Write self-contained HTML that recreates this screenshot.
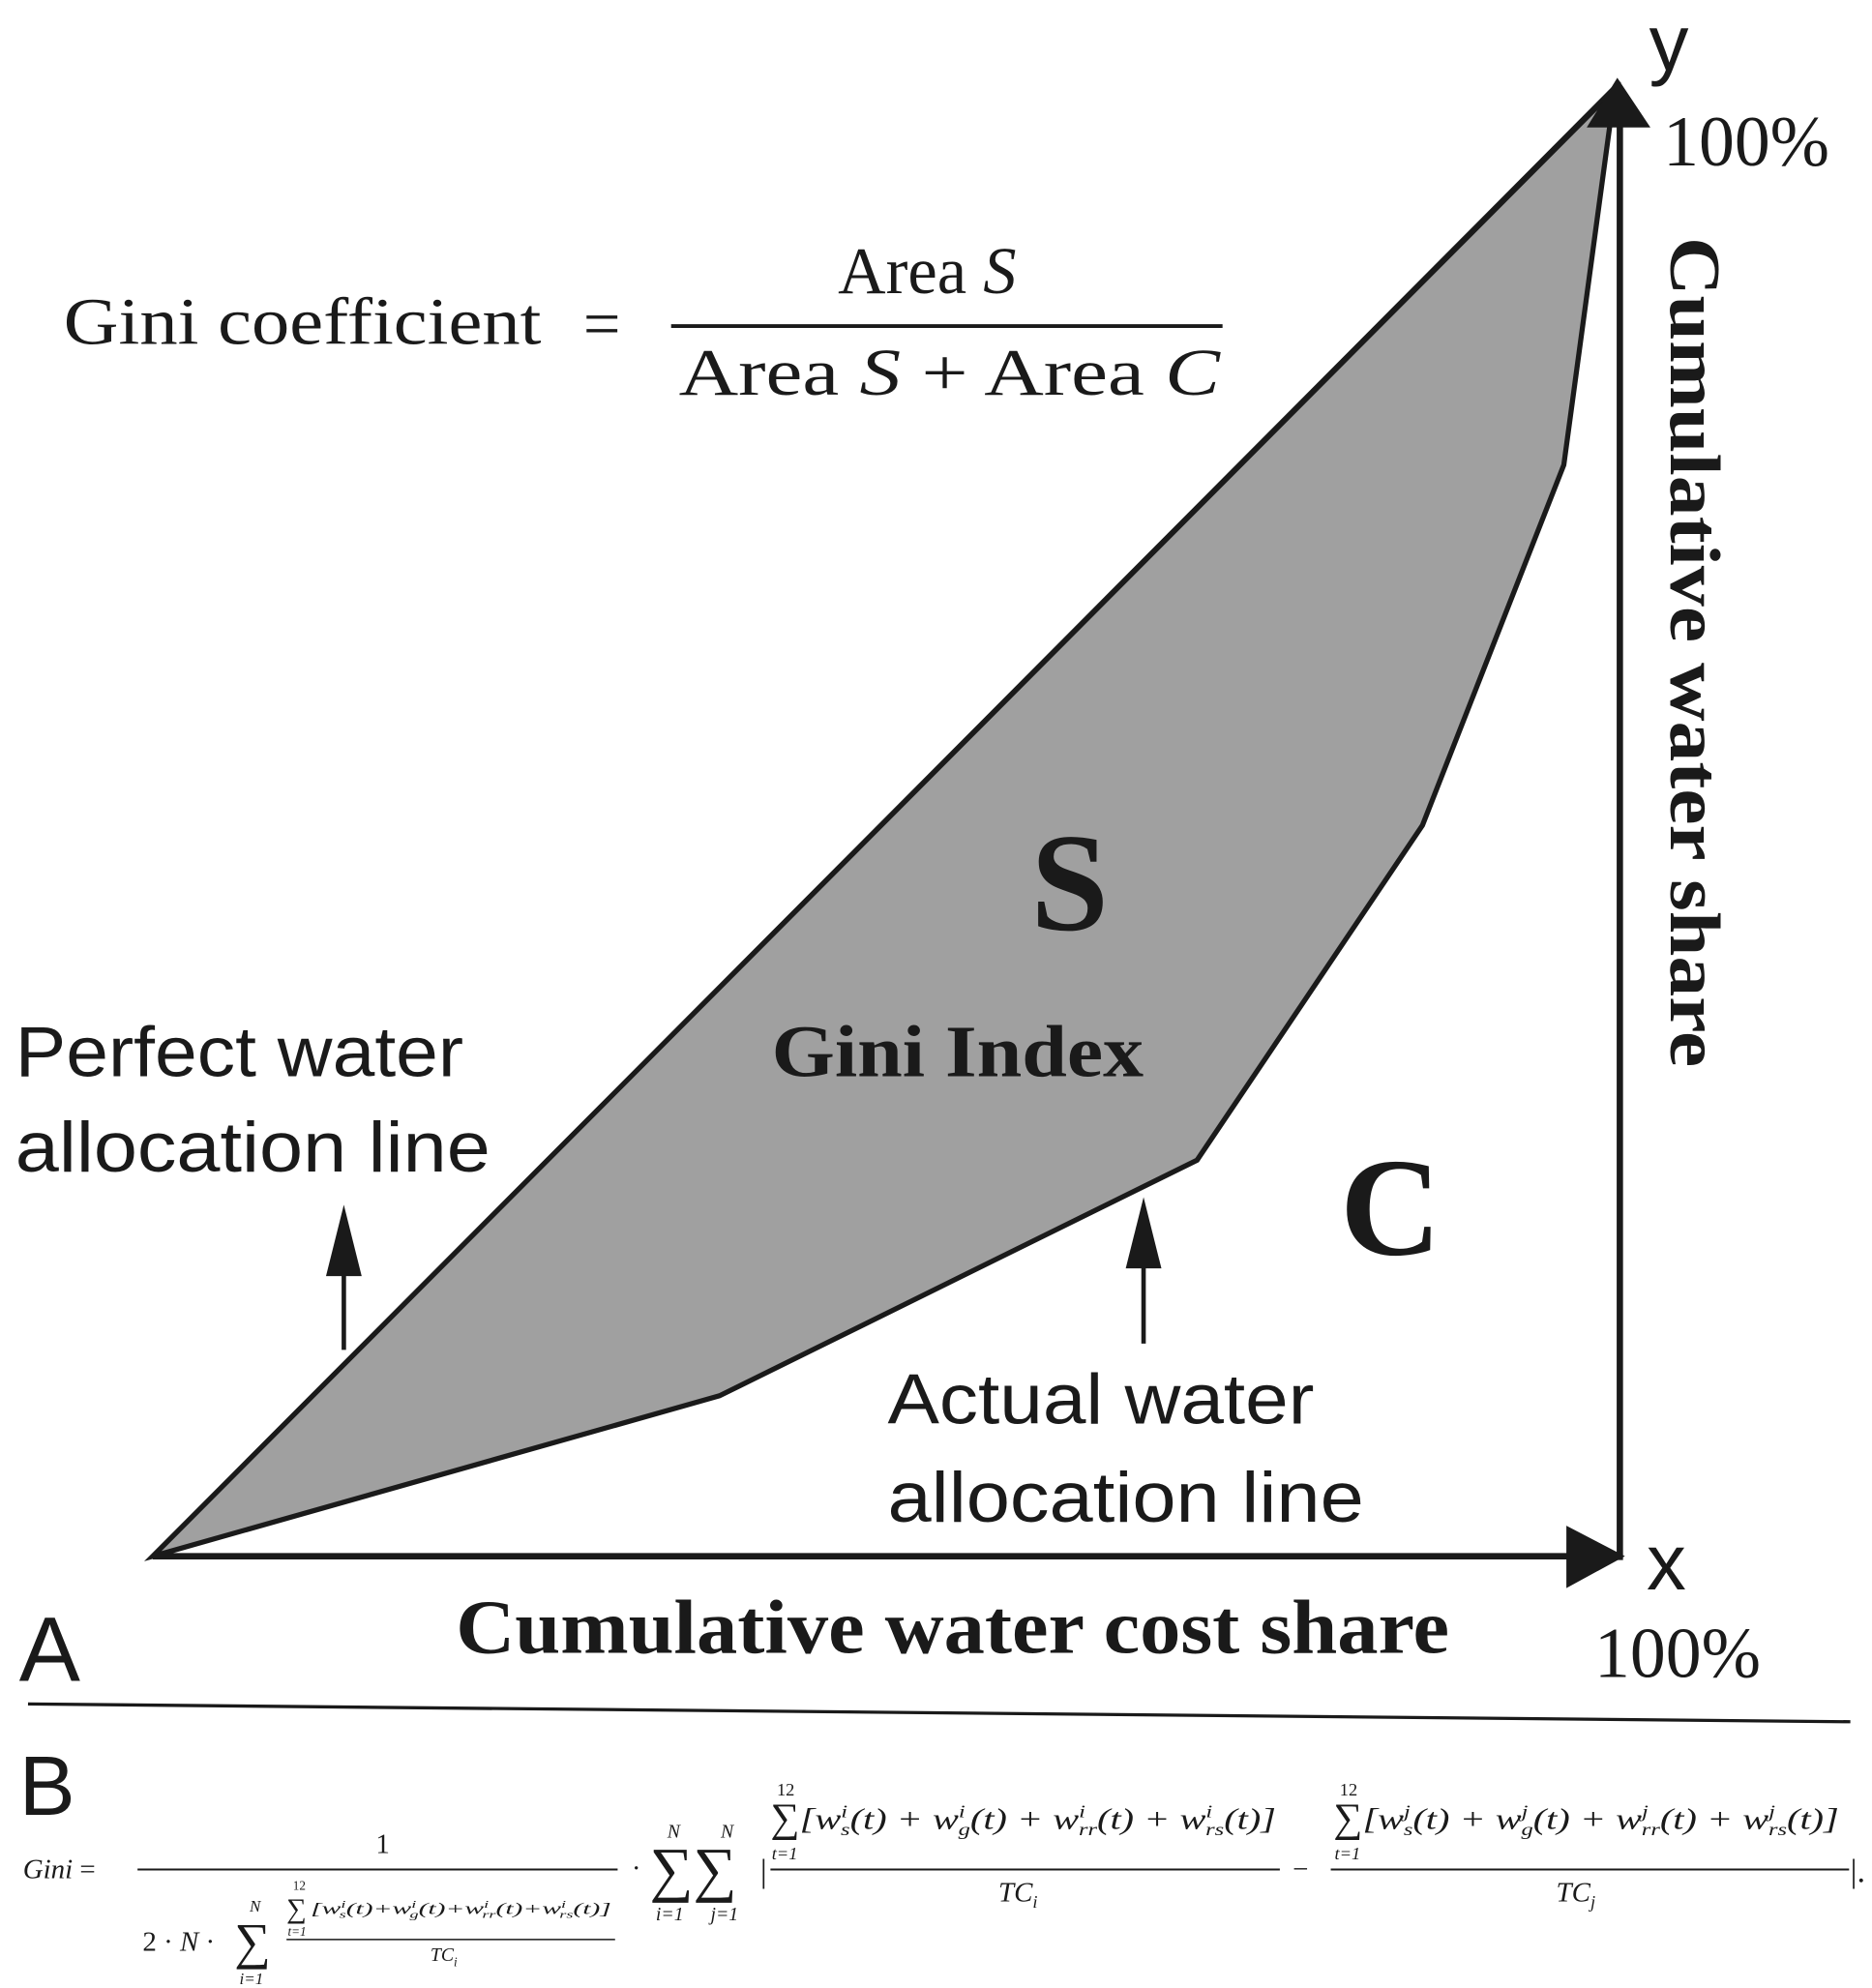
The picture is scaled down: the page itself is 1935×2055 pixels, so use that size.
<!DOCTYPE html>
<html><head><meta charset="utf-8"><style>
html,body{margin:0;padding:0;background:#fff;}
svg{display:block;}
.sans{font-family:"Liberation Sans",sans-serif;fill:#1a1a1a;}
.ser{font-family:"Liberation Serif",serif;fill:#1a1a1a;}
.it{font-family:"Liberation Serif",serif;font-style:italic;fill:#1a1a1a;}
</style></head><body>
<svg width="1935" height="2055" viewBox="0 0 1470 1561" xmlns="http://www.w3.org/2000/svg">
<rect width="1470" height="1561" fill="#fff"/>
<polygon points="120,1222 565,1096 940,911 1117,648 1228,365 1268,70" fill="#a0a0a0" stroke="#1a1a1a" stroke-width="4" stroke-linejoin="miter"/>
<line x1="120" y1="1222" x2="1272" y2="64" stroke="#1a1a1a" stroke-width="3"/>
<line x1="120" y1="1222" x2="1235" y2="1222" stroke="#1a1a1a" stroke-width="5"/>
<polygon points="1276,1222 1230,1198 1230,1247" fill="#1a1a1a"/>
<line x1="1272" y1="1225" x2="1272" y2="95" stroke="#1a1a1a" stroke-width="5"/>
<polygon points="1270,61 1246,100 1296,100" fill="#1a1a1a"/>
<line x1="270" y1="1060" x2="270" y2="1000" stroke="#1a1a1a" stroke-width="3.5"/>
<polygon points="270,946 256,1002 284,1002" fill="#1a1a1a"/>
<line x1="898" y1="1055" x2="898" y2="995" stroke="#1a1a1a" stroke-width="3.5"/>
<polygon points="898,940 884,996 912,996" fill="#1a1a1a"/>
<text class="sans" x="1295" y="55" font-size="62">y</text>
<text class="ser" x="1306" y="130" font-size="56">100%</text>
<text class="ser" font-weight="bold" font-size="56" transform="translate(1312,186) rotate(90)" textLength="652" lengthAdjust="spacingAndGlyphs">Cumulative water share</text>
<text class="ser" x="50" y="270" font-size="52" textLength="375" lengthAdjust="spacingAndGlyphs">Gini coefficient</text>
<text class="ser" x="458" y="272" font-size="52">=</text>
<line x1="527" y1="256" x2="960" y2="256" stroke="#1a1a1a" stroke-width="3"/>
<text class="ser" x="658" y="230" font-size="52">Area <tspan font-style="italic">S</tspan></text>
<text class="ser" x="533" y="310" font-size="52" textLength="425" lengthAdjust="spacingAndGlyphs">Area <tspan font-style="italic">S</tspan> + Area <tspan font-style="italic">C</tspan></text>
<text class="ser" x="840" y="730" font-size="110" font-weight="bold" text-anchor="middle">S</text>
<text class="ser" x="606" y="845" font-size="58" font-weight="bold" textLength="292" lengthAdjust="spacingAndGlyphs">Gini Index</text>
<text class="ser" x="1092" y="985" font-size="110" font-weight="bold" text-anchor="middle">C</text>
<text class="sans" x="12" y="845" font-size="56" textLength="352" lengthAdjust="spacingAndGlyphs">Perfect water</text>
<text class="sans" x="12" y="920" font-size="56" textLength="373" lengthAdjust="spacingAndGlyphs">allocation line</text>
<text class="sans" x="697" y="1118" font-size="56" textLength="335" lengthAdjust="spacingAndGlyphs">Actual water</text>
<text class="sans" x="697" y="1195" font-size="56" textLength="374" lengthAdjust="spacingAndGlyphs">allocation line</text>
<text class="sans" x="1293" y="1248" font-size="62">x</text>
<text class="ser" x="1252" y="1317" font-size="56">100%</text>
<text class="sans" x="15" y="1320" font-size="72">A</text>
<text class="ser" x="748" y="1298" font-size="60" font-weight="bold" text-anchor="middle" textLength="780" lengthAdjust="spacingAndGlyphs">Cumulative water cost share</text>
<line x1="22" y1="1338" x2="1453" y2="1352" stroke="#1a1a1a" stroke-width="2.5"/>
<text class="sans" x="15" y="1425" font-size="66">B</text>
<text class="it" x="18" y="1475" font-size="22">Gini <tspan font-style="normal">=</tspan></text>
<line x1="108" y1="1468" x2="485" y2="1468" stroke="#1a1a1a" stroke-width="1.5"/>
<text class="ser" x="295" y="1455" font-size="22">1</text>
<text class="ser" x="112" y="1532" font-size="22">2 · <tspan font-style="italic">N</tspan> ·</text>
<text class="ser" x="184" y="1538" font-size="40">∑</text>
<text class="it" x="196" y="1501" font-size="13">N</text>
<text class="it" x="188" y="1558" font-size="13">i=1</text>
<line x1="225" y1="1523" x2="483" y2="1523" stroke="#1a1a1a" stroke-width="1.2"/>
<text class="ser" x="230" y="1484" font-size="10">12</text>
<text class="ser" x="225" y="1506" font-size="22">∑</text>
<text class="it" x="226" y="1520" font-size="10">t=1</text>
<text class="it" x="244" y="1503" font-size="13" textLength="236" lengthAdjust="spacingAndGlyphs">[w<tspan font-size="8" dy="-5">i</tspan><tspan font-size="8" dx="-3" dy="8">s</tspan><tspan dy="-3">(t)+w</tspan><tspan font-size="8" dy="-5">i</tspan><tspan font-size="8" dx="-3" dy="8">g</tspan><tspan dy="-3">(t)+w</tspan><tspan font-size="8" dy="-5">i</tspan><tspan font-size="8" dx="-3" dy="8">rr</tspan><tspan dy="-3">(t)+w</tspan><tspan font-size="8" dy="-5">i</tspan><tspan font-size="8" dx="-3" dy="8">rs</tspan><tspan dy="-3">(t)]</tspan></text>
<text class="it" x="338" y="1540" font-size="15">TC<tspan font-size="10" dy="4">i</tspan></text>
<text class="ser" x="496" y="1474" font-size="22">·</text>
<text class="ser" x="510" y="1484" font-size="48">∑∑</text>
<text class="it" x="524" y="1443" font-size="15">N</text>
<text class="it" x="566" y="1443" font-size="15">N</text>
<text class="it" x="515" y="1508" font-size="15">i=1</text>
<text class="it" x="558" y="1508" font-size="15">j=1</text>
<text class="ser" x="597" y="1478" font-size="26">|</text>
<text class="ser" x="610" y="1410" font-size="14">12</text>
<text class="ser" x="605" y="1438" font-size="32">∑</text>
<text class="it" x="606" y="1460" font-size="14">t=1</text>
<text class="it" x="628" y="1436" font-size="23" textLength="374" lengthAdjust="spacingAndGlyphs">[w<tspan font-size="14" dy="-9">i</tspan><tspan font-size="14" dx="-4" dy="14">s</tspan><tspan dy="-5">(t) + w</tspan><tspan font-size="14" dy="-9">i</tspan><tspan font-size="14" dx="-4" dy="14">g</tspan><tspan dy="-5">(t) + w</tspan><tspan font-size="14" dy="-9">i</tspan><tspan font-size="14" dx="-4" dy="14">rr</tspan><tspan dy="-5">(t) + w</tspan><tspan font-size="14" dy="-9">i</tspan><tspan font-size="14" dx="-4" dy="14">rs</tspan><tspan dy="-5">(t)]</tspan></text>
<line x1="605" y1="1468" x2="1005" y2="1468" stroke="#1a1a1a" stroke-width="1.5"/>
<text class="it" x="784" y="1493" font-size="22">TC<tspan font-size="14" dy="5">i</tspan></text>
<text class="ser" x="1015" y="1475" font-size="22">−</text>
<text class="ser" x="1052" y="1410" font-size="14">12</text>
<text class="ser" x="1047" y="1438" font-size="32">∑</text>
<text class="it" x="1048" y="1460" font-size="14">t=1</text>
<text class="it" x="1070" y="1436" font-size="23" textLength="374" lengthAdjust="spacingAndGlyphs">[w<tspan font-size="14" dy="-9">j</tspan><tspan font-size="14" dx="-4" dy="14">s</tspan><tspan dy="-5">(t) + w</tspan><tspan font-size="14" dy="-9">j</tspan><tspan font-size="14" dx="-4" dy="14">g</tspan><tspan dy="-5">(t) + w</tspan><tspan font-size="14" dy="-9">j</tspan><tspan font-size="14" dx="-4" dy="14">rr</tspan><tspan dy="-5">(t) + w</tspan><tspan font-size="14" dy="-9">j</tspan><tspan font-size="14" dx="-4" dy="14">rs</tspan><tspan dy="-5">(t)]</tspan></text>
<line x1="1045" y1="1468" x2="1452" y2="1468" stroke="#1a1a1a" stroke-width="1.5"/>
<text class="it" x="1222" y="1493" font-size="22">TC<tspan font-size="14" dy="5">j</tspan></text>
<text class="ser" x="1453" y="1478" font-size="26">|.</text>
</svg>
</body></html>
